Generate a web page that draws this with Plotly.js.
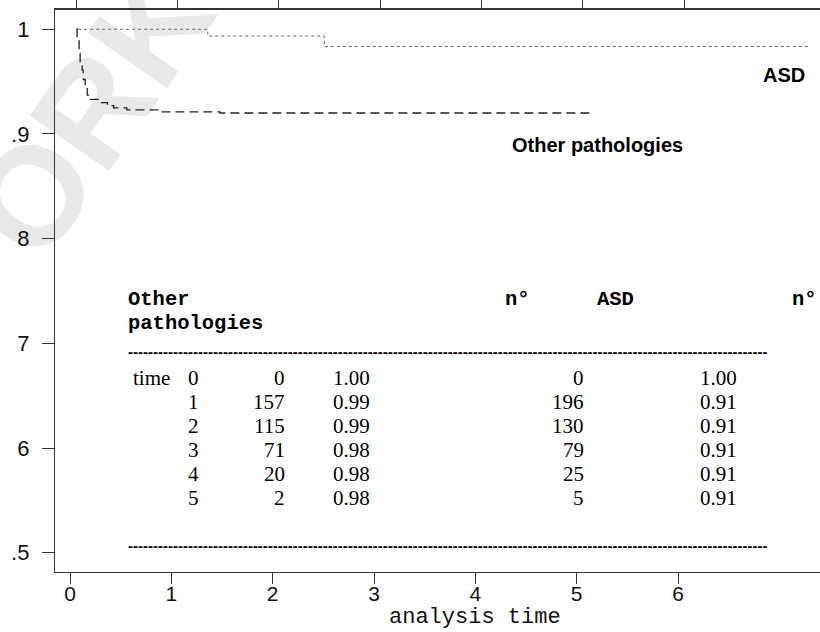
<!DOCTYPE html>
<html>
<head>
<meta charset="utf-8">
<script src="https://cdn.plot.ly/plotly-3.0.1.min.js"></script>
<style>html,body{margin:0;padding:0;background:#fff;}#chart{width:820px;height:632px;}</style>
</head>
<body>
<div id="chart"></div>
<script>
// ---- data ----
const asdTime  = [0.08, 1.36, 2.51, 7.30];
const asdSurv  = [1.000, 0.9935, 0.9835, 0.9835];

const otherTime = [0.06, 0.07, 0.09, 0.10, 0.12, 0.13, 0.15, 0.17, 0.20, 0.30, 0.37, 0.43, 0.56, 0.89, 1.48, 5.16];
const otherSurv = [1.000, 0.990, 0.977, 0.968, 0.961, 0.952, 0.945, 0.937, 0.933, 0.930, 0.927, 0.925, 0.923, 0.921, 0.920, 0.920];

const xTickVals = [0, 1, 2, 3, 4, 5, 6];
const xTickText = ["0", "1", "2", "3", "4", "5", "6"];
const yTickVals = [1, 0.9, 0.8, 0.7, 0.6, 0.5];
const yTickText = ["1", ".9", "8", "7", "6", ".5"];

const tableTimes   = ["0", "1", "2", "3", "4", "5"];
const tableNOther  = ["0", "157", "115", "71", "20", "2"];
const tableSOther  = ["1.00", "0.99", "0.99", "0.98", "0.98", "0.98"];
const tableNASD    = ["0", "196", "130", "79", "25", "5"];
const tableSASD    = ["1.00", "0.91", "0.91", "0.91", "0.91", "0.91"];

const labelASD = "ASD";
const labelOther = "Other pathologies";
const xTitle = "analysis time";

// ---- layout helpers (pixel -> paper) ----
const W = 820, H = 632, ML = 55, MR = 0, MT = 10, MB = 60;
const pxX = p => (p - ML) / (W - ML - MR);
const pxY = p => (H - MB - p) / (H - MT - MB);

const xRange = [-0.148, 7.401];
const yRange = [0.4816, 1.0184];
const topShift = 0.06;

const traces = [
  {x: asdTime, y: asdSurv, type: 'scatter', mode: 'lines', line: {shape: 'hv', dash: 'dot', width: 1, color: '#666'}, name: labelASD, hoverinfo: 'skip'},
  {x: otherTime, y: otherSurv, type: 'scatter', mode: 'lines', line: {shape: 'hv', dash: '9px,5px', width: 1.3, color: '#222'}, name: labelOther, hoverinfo: 'skip'}
];

const mono = 'Liberation Mono, Courier New, monospace';
const serif = 'Liberation Serif, Times New Roman, serif';
const sans = 'Liberation Sans, Arial, sans-serif';

const ann = [];
function txt(text, x, y, xanchor, font) {
  ann.push({text: text, xref: 'paper', yref: 'paper', x: pxX(x), y: pxY(y), xanchor: xanchor, yanchor: 'middle', showarrow: false, font: font});
}
// curve labels
txt('<b>' + labelASD + '</b>', 761, 75, 'left', {family: sans, size: 20, color: '#000'});
txt('<b>' + labelOther + '</b>', 510, 145, 'left', {family: sans, size: 20, color: '#000'});
// axis title
txt(xTitle, 475, 617, 'center', {family: mono, size: 22, color: '#111'});
// table header
const hf = {family: mono, size: 20.5, color: '#000'};
txt('<b>Other</b>', 126, 299, 'left', hf);
txt('<b>pathologies</b>', 126, 323, 'left', hf);
txt('<b>n°</b>', 503, 299, 'left', hf);
txt('<b>ASD</b>', 595, 299, 'left', hf);
txt('<b>n°</b>', 819, 299, 'right', hf);
const dashes = '-'.repeat(128);
txt('<b>' + dashes + '</b>', 126, 351, 'left', {family: sans, size: 15, color: '#000'});
txt('<b>' + dashes + '</b>', 126, 545, 'left', {family: sans, size: 15, color: '#000'});
// table body
const bf = {family: serif, size: 21, color: '#000'};
txt('time', 131, 378, 'left', bf);
for (let i = 0; i < tableTimes.length; i++) {
  const y = 378 + 24 * i;
  txt(tableTimes[i], 193, y, 'center', bf);
  txt(tableNOther[i], 287, y, 'right', bf);
  txt(tableSOther[i], 351, y, 'center', bf);
  txt(tableNASD[i], 586, y, 'right', bf);
  txt(tableSASD[i], 718, y, 'center', bf);
}

const layout = {
  width: W, height: H,
  margin: {l: ML, r: MR, t: MT, b: MB, pad: 0},
  paper_bgcolor: '#fff', plot_bgcolor: '#fff',
  showlegend: false,
  xaxis: {
    range: xRange, tickvals: xTickVals, ticktext: xTickText,
    showgrid: false, zeroline: false, showline: true, linecolor: '#333', linewidth: 1.2,
    ticks: 'outside', ticklen: 11, tickwidth: 1, tickcolor: '#333', ticklabelstandoff: -8,
    tickfont: {family: sans, size: 21, color: '#111'}
  },
  xaxis2: {
    range: [xRange[0] - topShift, xRange[1] - topShift], overlaying: 'x', side: 'top', anchor: 'y',
    tickvals: xTickVals, showticklabels: false,
    showgrid: false, zeroline: false, showline: true, linecolor: '#333', linewidth: 1.6,
    ticks: 'outside', ticklen: 10, tickwidth: 1, tickcolor: '#333'
  },
  yaxis: {
    range: yRange, tickvals: yTickVals, ticktext: yTickText,
    showgrid: false, zeroline: false, showline: true, linecolor: '#333', linewidth: 1.2,
    ticks: 'outside', ticklen: 12, tickwidth: 1, tickcolor: '#333', ticklabelstandoff: 8,
    tickfont: {family: sans, size: 22, color: '#111'}
  },
  annotations: ann,
  shapes: [{
    type: 'rect', xref: 'paper', yref: 'paper', layer: 'below',
    x0: pxX(-50), x1: pxX(210), y0: pxY(225), y1: pxY(-15),
    line: {width: 0}, fillcolor: 'rgba(0,0,0,0)',
    label: {text: '<b>ORK</b>', textangle: -55, textposition: 'middle center', font: {family: sans, size: 140, color: '#e9e9e9'}}
  }]
};

// empty trace to activate the top axis
traces.push({x: [], y: [], xaxis: 'x2', yaxis: 'y', type: 'scatter', mode: 'lines', hoverinfo: 'skip'});

Plotly.newPlot('chart', traces, layout, {staticPlot: true, displayModeBar: false});
</script>
</body>
</html>
